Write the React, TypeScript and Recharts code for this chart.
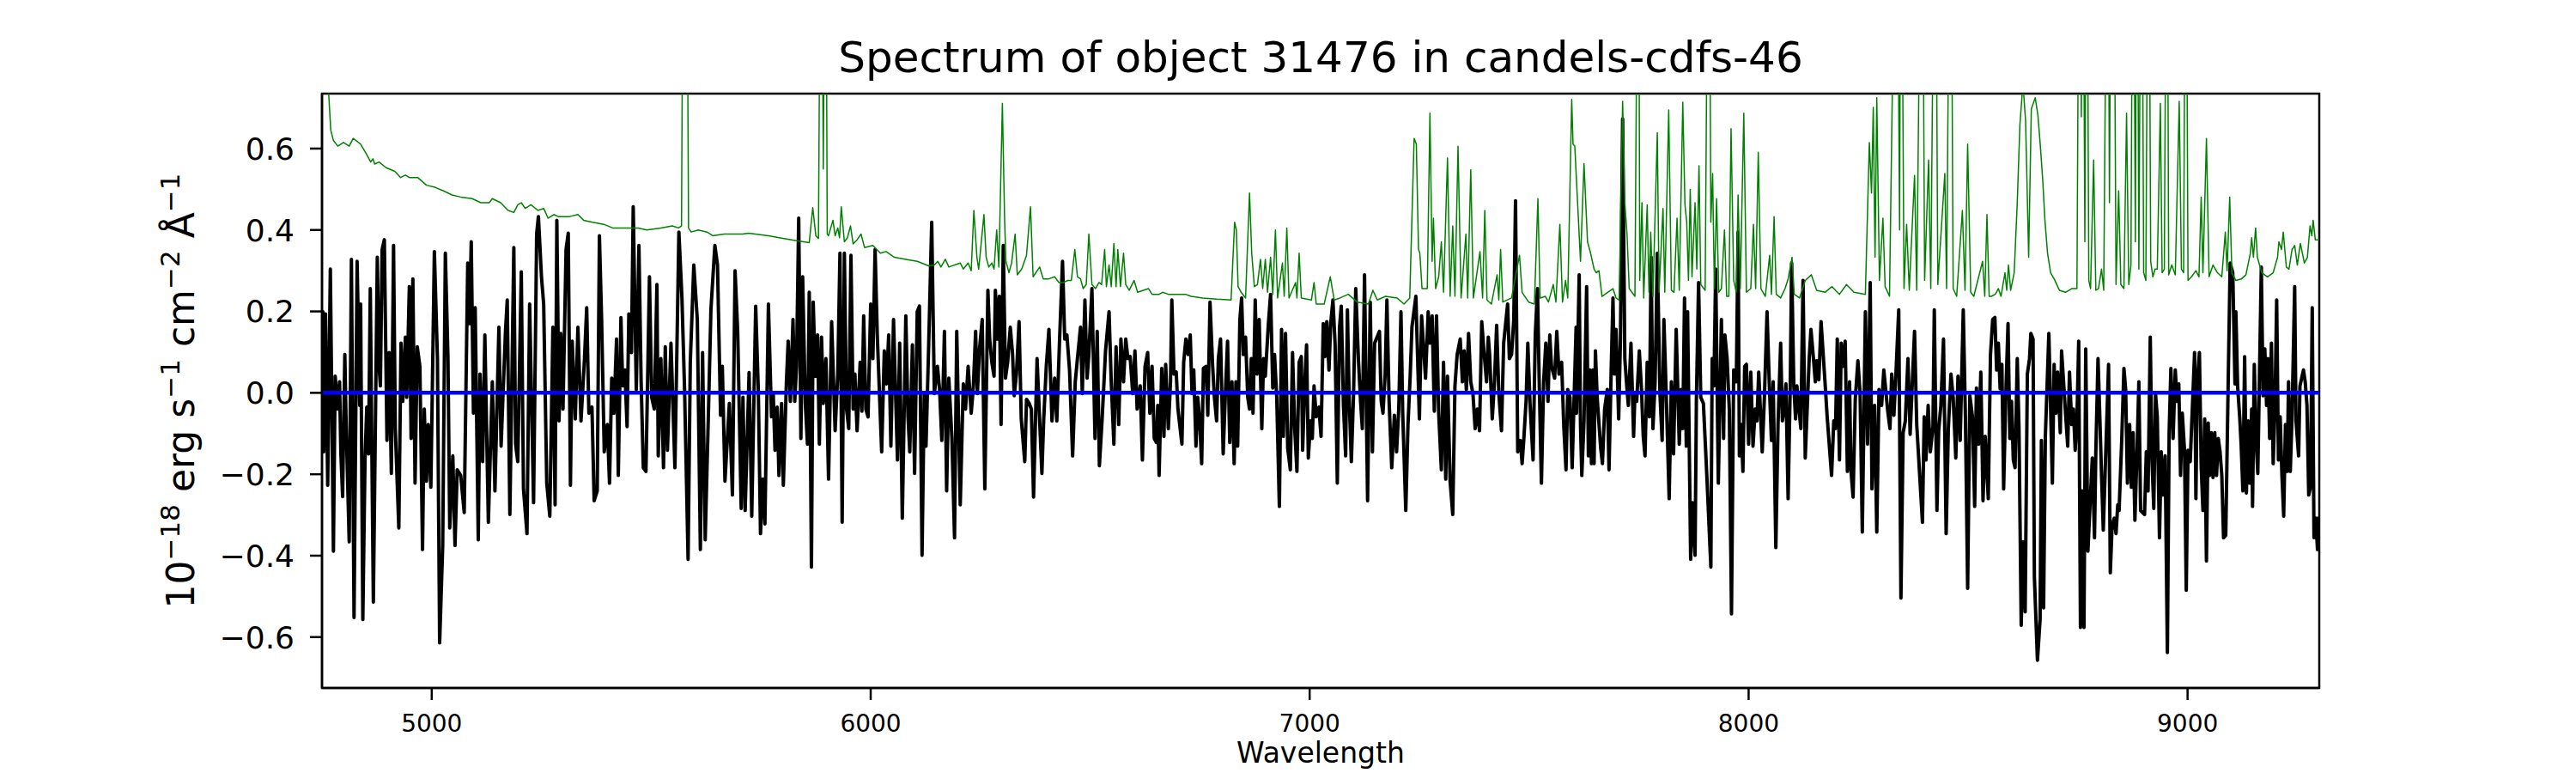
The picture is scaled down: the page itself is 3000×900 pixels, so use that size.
import React from 'react';
import { LineChart, Line, XAxis, YAxis, ReferenceLine, ReferenceArea } from 'recharts';

// Wavelength ticks and flux ticks
const xTicks = [5000, 6000, 7000, 8000, 9000];
const yTicks = [-0.6, -0.4, -0.2, 0.0, 0.2, 0.4, 0.6];
const xDomain: [number, number] = [4750, 9300];
const yDomain: [number, number] = [-0.725, 0.735];

// Observed flux [wavelength, flux]
const fluxA: [number, number][] = [
  [4750,-0.12],[4752,0.199],[4754,-0.145],[4758,0.194],[4763,-0.227],[4769,0.304],[4776,-0.389],[4780,0.041],[4786,-0.04],[4790,0.027],
  [4793,-0.15],[4797,-0.255],[4802,0.094],[4805,-0.078],[4812,-0.366],[4817,0.328],[4823,-0.552],[4830,0.323],[4836,-0.031],[4838,0.218],
  [4843,-0.557],[4848,-0.165],[4852,-0.035],[4856,-0.15],[4860,0.256],[4867,-0.514],[4876,0.333],[4880,0.065],[4883,0.017],[4887,0.352],
  [4892,0.376],[4898,-0.117],[4903,0.099],[4908,-0.198],[4913,0.362],[4917,-0.088],[4925,-0.332],[4930,0.122],[4934,-0.021],[4940,0.137],
  [4943,-0.011],[4949,0.261],[4953,-0.112],[4957,0.28],[4962,-0.222],[4967,0.113],[4973,0.065],[4979,-0.385],[4983,-0.04],[4988,-0.217],
  [4992,-0.078],[4998,-0.232],[5006,0.347],[5013,0.084],[5018,-0.614],[5025,-0.375],[5031,0.343],[5037,0.084],[5041,-0.332],[5048,-0.155],
  [5053,-0.375],[5058,-0.189],[5066,-0.203],[5074,-0.294],[5082,0.319],[5086,0.17],[5090,0.371],[5095,-0.05],[5099,0.209],[5106,-0.361],
  [5110,0.046],[5116,-0.169],[5121,0.142],[5129,-0.318],[5138,0.027],[5144,-0.241],[5153,0.161],[5158,-0.131],[5162,-0.016],[5168,0.151],
  [5172,0.228],[5178,-0.299],[5187,0.357],[5191,-0.126],[5196,-0.169],[5204,0.297],[5209,-0.236],[5217,-0.346],[5223,0.218],[5232,-0.27],
  [5239,0.39],[5243,0.433],[5250,0.285],[5255,0.218],[5262,-0.222],[5269,-0.303],[5276,0.161],[5281,-0.275],[5285,0.424],[5290,-0.069],
  [5294,0.146],[5299,-0.04],[5306,0.352],[5311,0.392],[5316,-0.227],[5320,0.127],[5327,-0.064],[5333,0.161],[5340,-0.069],[5348,0.084],
  [5353,0.209],[5358,-0.05],[5365,-0.035],[5370,-0.265],[5377,-0.241],[5382,0.386],[5387,0.18],[5393,-0.145],[5400,-0.078],[5405,-0.222],
  [5410,0.036],[5415,-0.05],[5421,0.132],[5425,-0.203],[5431,0.185],[5435,0.017],[5440,0.056],[5445,-0.083],[5449,0.194],[5455,0.099],
  [5459,0.457],[5466,0.008],[5472,0.362],[5477,0.027],[5482,-0.184],[5488,-0.193],[5496,0.285],[5501,-0.011],[5507,-0.04],[5513,0.266],
  [5516,-0.155],[5522,0.084],[5528,-0.184],[5532,0.113],[5537,-0.141],[5545,0.122],[5554,-0.184],[5563,0.395],[5570,0.233],[5576,0.008],
  [5584,-0.409],[5589,0.075],[5597,0.314],[5605,0.18],[5612,-0.385],[5617,0.099],[5623,-0.361],[5630,-0.064],[5636,0.204],[5645,0.362],
  [5651,0.314],[5658,-0.055],[5662,0.065],[5668,-0.217],[5678,-0.026],[5685,-0.251],[5691,0.3],[5697,0.151],[5705,-0.284],
];
const fluxB: [number, number][] = [
  [5709,-0.011],[5714,-0.289],[5723,0.05],[5729,-0.303],[5738,0.213],[5744,0.005],[5749,-0.346],[5754,-0.212],[5759,-0.322],[5767,0.218],
  [5774,-0.059],[5778,-0.002],[5782,-0.141],[5787,-0.035],[5791,-0.203],[5797,-0.026],[5801,-0.227],[5808,0.027],[5812,0.127],[5817,-0.021],
  [5823,0.18],[5827,-0.021],[5831,0.065],[5836,0.429],[5841,-0.112],[5845,0.285],[5851,-0.026],[5856,-0.126],[5860,0.247],[5865,-0.428],
  [5869,0.223],[5874,0.041],[5879,0.142],[5883,-0.126],[5888,0.137],[5892,-0.026],[5898,0.084],[5904,-0.212],[5911,0.175],[5919,-0.093],
  [5925,0.046],[5930,0.343],[5935,-0.318],[5940,0.343],[5945,-0.04],[5950,-0.088],[5955,0.338],[5960,-0.04],[5964,0.046],[5969,-0.093],
  [5976,0.075],[5980,-0.045],[5984,0.189],[5989,-0.04],[5994,-0.059],[6000,0.218],[6005,0.084],[6010,0.352],[6015,0.142],[6020,-0.002],
  [6025,-0.145],[6031,0.103],[6036,0.022],[6041,0.142],[6046,-0.131],[6052,0.18],[6056,0.027],[6061,-0.165],[6066,0.122],[6072,-0.308],
  [6080,0.189],[6085,-0.059],[6089,-0.145],[6095,0.118],[6100,-0.198],[6106,0.199],[6111,0.213],[6117,-0.399],[6122,-0.002],[6126,-0.131],
  [6132,0.113],[6139,0.419],[6145,-0.002],[6152,0.065],[6157,0.008],[6162,-0.117],[6168,0.151],[6173,-0.241],[6178,0.036],[6185,-0.112],
  [6191,-0.356],[6196,0.151],[6204,-0.275],[6211,0.022],[6216,-0.04],[6222,0.065],[6229,-0.05],[6234,0.017],[6239,0.151],[6243,-0.002],
  [6248,0.108],[6254,0.18],[6260,-0.236],[6267,0.252],[6271,0.132],[6276,0.075],[6281,0.041],[6284,0.252],[6289,0.132],[6293,0.237],
  [6297,-0.078],[6302,0.362],[6307,0.036],[6312,0.075],[6318,0.161],[6323,0.099],[6327,-0.007],[6332,0.046],[6338,0.175],[6343,-0.064],
  [6351,-0.169],[6355,-0.016],[6361,-0.026],[6366,-0.04],[6371,-0.256],[6379,0.084],[6390,-0.198],[6394,-0.069],[6400,0.065],[6406,0.156],
  [6413,-0.069],[6419,0.036],[6424,-0.069],[6430,0.122],[6437,0.323],[6442,0.132],[6447,0.142],[6453,0.056],[6460,-0.155],[6466,0.027],
  [6471,0.084],[6478,0.161],[6482,-0.002],[6488,0.228],[6493,0.036],[6497,0.094],[6504,0.256],[6511,-0.112],[6516,0.151],[6521,-0.179],
  [6527,-0.069],[6535,0.103],[6543,0.199],[6548,0.027],[6554,-0.126],[6559,0.113],[6565,-0.078],[6570,0.132],[6576,0.027],[6581,0.132],
  [6586,0.084],[6591,0.089],[6597,-0.002],[6602,0.103],[6607,-0.04],[6614,0.017],[6619,-0.165],[6625,0.065],[6631,0.099],[6636,-0.05],
  [6641,0.065],[6646,-0.112],[6651,-0.122],[6654,-0.031],[6657,-0.203],
];
const fluxC: [number, number][] = [
  [6663,0.06],[6668,-0.107],[6672,0.07],[6678,-0.088],[6683,0.027],[6686,0.228],[6691,0.046],[6696,0.051],[6700,-0.04],[6709,-0.126],
  [6713,0.075],[6718,0.132],[6723,0.094],[6728,0.142],[6732,-0.002],[6736,0.056],[6741,-0.131],[6745,-0.011],[6749,-0.059],[6754,-0.174],
  [6758,0.06],[6764,0.065],[6768,-0.055],[6773,0.223],[6779,0.065],[6783,-0.011],[6788,-0.069],[6792,0.084],[6797,0.132],[6803,-0.15],
  [6808,-0.002],[6813,0.127],[6818,-0.122],[6823,0.027],[6828,-0.174],[6832,0.027],[6836,-0.131],[6841,0.18],[6845,0.233],[6849,0.094],
  [6854,0.137],[6859,-0.011],[6863,-0.04],[6867,0.084],[6871,-0.05],[6876,0.228],[6880,0.046],[6885,0.18],[6891,-0.088],[6895,0.084],
  [6899,0.041],[6906,0.17],[6911,0.242],[6916,0.012],[6920,0.094],[6925,-0.011],[6931,-0.279],[6936,0.156],[6940,-0.107],[6945,0.146],
  [6950,-0.136],[6956,-0.189],[6961,0.099],[6966,-0.088],[6971,-0.193],[6976,0.075],[6981,0.089],[6984,-0.141],[6989,0.027],[6993,0.118],
  [6997,-0.16],[7002,-0.069],[7006,-0.112],[7010,0.017],[7015,-0.059],[7021,-0.035],[7026,-0.107],[7031,0.17],[7035,0.089],[7039,0.175],
  [7044,0.056],[7048,0.17],[7053,0.228],[7058,0.118],[7063,-0.222],[7068,0.161],[7072,0.213],[7077,-0.031],[7082,-0.155],[7086,0.204],
  [7090,-0.011],[7095,-0.169],[7100,-0.002],[7105,0.256],[7111,0.084],[7116,-0.021],[7120,-0.088],[7125,0.29],[7132,-0.265],[7138,0.223],
  [7143,-0.145],[7148,0.122],[7159,0.151],[7163,-0.021],[7167,-0.05],[7172,0.046],[7176,0.228],[7181,-0.021],[7187,-0.184],[7193,-0.055],
  [7198,-0.145],[7203,-0.04],[7208,0.199],[7212,-0.05],[7219,-0.289],[7224,-0.078],[7229,0.041],[7233,0.161],[7242,0.237],[7246,0.084],
  [7250,-0.064],[7255,0.189],[7264,0.036],[7270,0.199],[7274,0.122],[7279,0.189],[7284,-0.045],[7289,0.189],[7294,-0.05],[7300,-0.189],
  [7305,0.075],[7310,-0.212],[7314,0.041],[7320,-0.217],[7326,-0.299],[7331,0.017],[7336,0.094],[7343,0.132],[7348,0.027],[7352,0.103],
  [7357,0.008],[7362,0.146],[7367,0.027],[7372,-0.002],[7377,-0.088],[7382,-0.04],[7387,-0.093],[7392,0.175],[7397,0.103],[7403,0.027],
  [7407,0.137],[7410,0.094],[7416,-0.064],[7421,0.027],[7426,0.166],[7431,-0.002],[7437,-0.093],[7442,0.122],[7451,0.218],[7455,0.084],
  [7460,0.094],[7465,0.18],[7469,0.472],[7474,-0.145],[7480,-0.117],[7484,-0.174],[7488,-0.112],[7493,-0.021],[7497,0.122],[7502,-0.026],
  [7509,-0.165],[7514,0.142],[7519,0.256],[7523,0.027],[7528,-0.222],[7533,0.027],[7538,0.122],[7543,-0.021],[7547,0.142],[7551,0.065],
  [7558,0.036],[7563,0.151],[7568,0.046],[7574,0.075],[7579,-0.083],[7584,-0.189],[7588,0.008],[7593,-0.011],[7598,-0.184],[7603,0.008],
  [7607,0.161],
];
const fluxD: [number, number][] = [
  [7608,-0.05],[7614,0.29],[7617,-0.078],[7620,-0.203],[7625,-0.069],[7631,0.261],[7635,-0.155],[7638,0.056],[7642,-0.174],[7645,0.056],
  [7648,-0.174],[7651,0.103],[7655,-0.011],[7663,-0.136],[7667,-0.174],[7672,-0.04],[7678,0.008],[7682,-0.189],[7687,0.06],[7691,0.233],
  [7694,0.046],[7698,0.156],[7704,-0.064],[7708,0.132],[7713,0.673],[7718,0.084],[7723,0.008],[7726,-0.031],[7732,0.122],[7738,-0.107],
  [7741,-0.002],[7745,-0.021],[7751,0.103],[7756,0.008],[7760,-0.107],[7764,-0.155],[7769,0.075],[7774,-0.059],[7778,0.333],[7782,-0.088],
  [7787,0.027],[7792,0.343],[7798,-0.002],[7803,-0.117],[7807,0.18],[7812,0.008],[7819,-0.26],[7824,0.027],[7829,-0.15],[7835,0.156],
  [7842,-0.126],[7846,0.008],[7850,-0.088],[7854,0.233],[7858,-0.131],[7861,0.199],[7868,-0.409],[7872,-0.27],[7878,-0.399],[7881,-0.021],
  [7886,0.271],[7891,-0.011],[7897,-0.026],[7905,-0.208],[7914,-0.428],[7917,0.084],[7921,0.017],[7925,0.304],[7931,-0.222],[7938,0.18],
  [7943,-0.112],[7946,0.142],[7951,0.084],[7956,-0.04],[7961,-0.543],[7966,0.056],[7972,0.027],[7976,0.395],[7979,-0.155],[7983,-0.078],
  [7987,-0.193],[7991,0.065],[7995,0.07],[8000,-0.126],[8005,0.051],[8010,-0.131],[8015,-0.04],[8019,-0.069],[8023,0.051],[8031,-0.145],
  [8036,-0.011],[8042,0.199],[8047,0.027],[8052,-0.117],[8056,0.027],[8062,-0.38],[8067,-0.078],[8073,0.122],[8077,-0.069],[8081,-0.04],
  [8085,0.022],[8090,-0.26],[8095,0.027],[8098,0.319],[8103,0.017],[8107,-0.064],[8110,0.017],[8119,-0.088],[8124,0.276],[8129,-0.16],
  [8138,0.084],[8142,0.156],[8147,0.094],[8152,0.027],[8155,0.079],[8160,0.032],[8165,0.175],[8174,0.027],[8179,-0.059],[8189,-0.203],
  [8194,-0.069],[8198,-0.088],[8202,0.132],[8207,-0.165],[8211,0.122],[8215,0.065],[8220,0.127],[8225,-0.193],[8230,0.027],[8233,-0.189],
  [8238,-0.256],[8243,-0.016],[8249,0.079],[8254,-0.002],[8259,-0.342],[8266,0.199],[8271,-0.126],[8277,0.271],[8281,-0.236],[8287,-0.031],
  [8292,-0.342],[8297,0.008],[8303,-0.031],[8308,0.056],[8317,-0.045],[8322,-0.088],[8326,0.046],[8331,-0.055],[8336,0.056],[8342,0.204],
  [8347,-0.504],[8352,-0.098],[8357,-0.069],[8363,0.084],[8368,-0.102],[8373,0.027],[8378,0.151],[8383,-0.078],[8396,-0.318],[8400,-0.059],
  [8404,-0.165],[8409,-0.031],[8414,-0.145],[8420,-0.083],[8423,0.204],[8429,-0.289],[8433,-0.093],[8438,-0.031],[8444,0.132],[8450,-0.346],
  [8455,-0.088],[8461,0.046],[8466,-0.011],[8472,-0.16],[8477,0.041],[8482,-0.117],[8489,0.204],[8494,-0.064],[8499,-0.48],[8504,-0.007],
  [8510,-0.059],[8515,-0.279],[8519,0.012],[8524,-0.126],[8529,0.051],[8534,-0.265],[8539,-0.107],[8546,-0.26],[8551,0.094],[8556,0.18],
];
const fluxE: [number, number][] = [
  [8561,0.185],[8565,0.056],[8569,0.122],[8573,0.01],[8577,0.07],[8581,-0.236],[8586,-0.002],[8591,0.17],[8595,-0.112],[8599,-0.021],
  [8603,-0.165],[8607,-0.184],[8612,0.084],[8616,-0.088],[8621,-0.571],[8625,-0.366],[8630,-0.538],[8635,0.046],[8640,0.084],[8643,0.146],
  [8648,0.132],[8651,-0.452],[8658,-0.657],[8664,-0.557],[8667,-0.117],[8672,-0.528],[8676,-0.107],[8684,0.146],[8692,-0.222],[8696,0.07],
  [8700,-0.05],[8704,0.051],[8710,-0.098],[8713,0.103],[8722,-0.05],[8727,-0.131],[8731,0.051],[8736,-0.078],[8740,-0.04],[8744,-0.141],
  [8748,-0.064],[8752,0.127],[8756,-0.576],[8760,-0.241],[8764,-0.576],[8768,0.108],[8773,-0.389],[8778,-0.27],[8783,-0.16],[8788,-0.356],
  [8791,-0.145],[8796,0.084],[8800,-0.055],[8804,-0.203],[8808,-0.337],[8812,-0.203],[8820,0.07],[8824,-0.442],[8828,-0.327],[8833,-0.308],
  [8837,-0.346],[8841,-0.275],[8844,-0.289],[8850,-0.117],[8855,0.06],[8859,0.008],[8863,-0.222],[8868,-0.078],[8872,-0.232],[8876,-0.098],
  [8880,-0.313],[8885,-0.141],[8889,0.027],[8893,-0.289],[8902,-0.299],[8906,-0.145],[8910,-0.241],[8915,0.137],[8919,-0.165],[8923,-0.284],
  [8927,-0.002],[8931,-0.059],[8936,-0.356],[8940,-0.145],[8944,-0.251],[8949,-0.155],[8954,-0.638],[8958,-0.098],[8962,0.06],[8967,-0.112],
  [8972,0.056],[8976,-0.021],[8980,0.022],[8984,-0.203],[8988,-0.05],[8993,-0.141],[8997,-0.485],[9001,-0.141],[9006,-0.169],[9016,0.099],
  [9019,-0.26],[9022,0.022],[9027,0.099],[9031,-0.179],[9035,-0.289],[9039,-0.064],[9043,-0.413],[9047,-0.074],[9050,-0.203],[9054,-0.098],
  [9058,-0.208],[9062,-0.098],[9066,-0.203],[9070,-0.112],[9074,-0.145],[9078,-0.203],[9082,-0.356],[9087,-0.35],[9092,-0.011],[9097,0.319],
  [9103,0.295],[9108,0.022],[9110,0.199],[9114,0.017],[9119,-0.064],[9122,-0.126],[9126,-0.241],[9130,0.089],[9134,-0.246],[9138,-0.069],
  [9142,-0.222],[9146,-0.04],[9148,-0.279],[9152,0.07],[9156,-0.112],[9160,-0.198],[9164,0.056],[9168,0.309],[9172,-0.007],[9176,0.108],
  [9180,-0.031],[9183,0.084],[9187,-0.112],[9191,0.122],[9195,-0.174],[9199,-0.04],[9203,0.228],[9207,-0.165],[9211,-0.059],[9215,-0.203],
  [9219,-0.303],[9223,-0.078],[9227,-0.193],[9230,0.027],[9234,-0.193],[9238,-0.059],[9244,0.261],[9247,-0.069],[9253,-0.155],[9256,0.017],
  [9264,0.056],[9268,0.027],[9272,-0.031],[9276,-0.251],[9280,-0.232],[9284,0.209],[9288,-0.356],[9292,-0.308],[9296,-0.385],[9298,-0.308],
  [9300,-0.38],
];

// Noise / sky spectrum [wavelength, value]
const skyA: [number, number][] = [
  [4750,1.3],[4760,0.85],[4766,0.72],[4770,0.645],[4776,0.62],[4786,0.606],[4799,0.615],[4812,0.606],[4821,0.625],[4838,0.611],
  [4851,0.587],[4861,0.567],[4866,0.575],[4870,0.562],[4880,0.567],[4896,0.553],[4916,0.544],[4929,0.529],[4940,0.535],[4949,0.529],
  [4968,0.529],[4988,0.51],[5007,0.505],[5027,0.496],[5046,0.486],[5066,0.481],[5092,0.477],[5112,0.467],[5131,0.467],[5138,0.477],
  [5157,0.467],[5174,0.448],[5187,0.443],[5196,0.462],[5204,0.467],[5213,0.453],[5226,0.462],[5242,0.448],[5255,0.453],[5265,0.429],
  [5278,0.438],[5288,0.433],[5314,0.433],[5333,0.438],[5346,0.424],[5366,0.419],[5392,0.414],[5412,0.405],[5438,0.405],[5470,0.405],
  [5490,0.4],[5522,0.405],[5548,0.41],[5562,0.405],[5569,0.41],[5574,1.5],[5580,1.5],[5585,0.405],[5591,0.395],[5607,0.4],
  [5627,0.395],[5640,0.386],[5666,0.39],[5708,0.39],
];
const skyB: [number, number][] = [
  [5722,0.392],[5767,0.386],[5819,0.376],[5860,0.369],[5868,0.455],[5875,0.386],[5881,0.379],[5887,1.5],[5892,0.55],[5897,1.5],
  [5901,0.39],[5904,0.386],[5914,0.424],[5919,0.386],[5925,0.405],[5929,0.381],[5933,0.457],[5940,0.371],[5947,0.381],[5954,0.41],
  [5960,0.366],[5969,0.376],[5978,0.39],[5986,0.357],[6005,0.362],[6022,0.343],[6035,0.347],[6054,0.333],[6080,0.328],[6106,0.323],
  [6132,0.312],[6145,0.314],[6153,0.323],[6160,0.309],[6170,0.328],[6178,0.309],[6204,0.319],[6211,0.304],[6222,0.319],[6229,0.3],
  [6235,0.448],[6242,0.333],[6246,0.304],[6258,0.438],[6263,0.333],[6269,0.309],[6276,0.319],[6281,0.304],[6287,0.4],[6292,0.309],
  [6300,0.711],[6305,0.429],[6308,0.323],[6315,0.295],[6321,0.319],[6329,0.39],[6334,0.29],[6344,0.304],[6355,0.338],[6364,0.457],
  [6370,0.285],[6385,0.309],[6393,0.28],[6406,0.28],[6419,0.285],[6429,0.271],[6439,0.271],[6449,0.276],[6457,0.276],[6465,0.352],
  [6471,0.285],[6478,0.28],[6484,0.256],[6491,0.266],[6497,0.39],[6504,0.266],[6512,0.256],[6520,0.271],[6526,0.266],[6533,0.352],
  [6537,0.261],[6543,0.314],[6548,0.261],[6554,0.367],[6559,0.261],[6563,0.352],[6569,0.261],[6576,0.343],[6581,0.266],[6589,0.252],
  [6600,0.276],[6608,0.247],[6633,0.256],[6641,0.242],[6657,0.242],
];
const skyC: [number, number][] = [
  [6665,0.247],[6678,0.242],[6700,0.242],[6717,0.242],[6730,0.237],[6756,0.233],[6788,0.23],[6821,0.228],[6829,0.419],[6833,0.4],
  [6837,0.261],[6844,0.247],[6854,0.233],[6863,0.491],[6868,0.343],[6874,0.261],[6881,0.266],[6888,0.328],[6893,0.256],[6899,0.328],
  [6904,0.247],[6911,0.333],[6916,0.242],[6922,0.4],[6927,0.233],[6938,0.319],[6942,0.237],[6948,0.405],[6953,0.233],[6968,0.271],
  [6971,0.233],[6976,0.343],[6981,0.233],[7004,0.228],[7010,0.271],[7015,0.218],[7033,0.218],[7047,0.285],[7056,0.228],[7069,0.233],
  [7088,0.242],[7108,0.223],[7134,0.218],[7144,0.252],[7154,0.228],[7173,0.237],[7199,0.233],[7215,0.218],[7228,0.233],[7238,0.625],
  [7243,0.611],[7248,0.352],[7251,0.343],[7256,0.256],[7268,0.256],[7274,0.687],[7279,0.323],[7282,0.429],[7287,0.256],[7294,0.285],
  [7300,0.371],[7305,0.247],[7314,0.577],[7320,0.237],[7326,0.41],[7331,0.237],[7338,0.606],[7345,0.233],[7356,0.39],[7360,0.233],
  [7367,0.548],[7373,0.233],[7388,0.347],[7394,0.233],[7399,0.448],[7404,0.228],[7414,0.218],[7427,0.29],[7431,0.228],[7435,0.352],
  [7440,0.223],[7460,0.233],[7478,0.338],[7484,0.247],[7490,0.237],[7499,0.223],[7512,0.218],[7520,0.477],[7525,0.233],[7537,0.237],
  [7544,0.223],[7555,0.266],[7561,0.223],[7570,0.414],[7576,0.223],[7583,0.276],[7588,0.233],[7597,0.721],[7600,0.611],[7604,0.606],
];
const skyD: [number, number][] = [
  [7617,0.323],[7625,0.563],[7633,0.371],[7640,0.343],[7648,0.304],[7653,0.295],[7659,0.3],[7666,0.237],[7679,0.247],[7691,0.256],
  [7698,0.233],[7705,0.228],[7713,0.716],[7718,0.467],[7723,0.39],[7728,0.256],[7734,0.247],[7741,0.237],[7749,1.5],[7752,0.276],
  [7757,0.467],[7761,0.233],[7769,0.462],[7773,0.247],[7777,0.395],[7782,0.237],[7792,0.639],[7796,0.247],[7805,0.453],[7809,0.247],
  [7818,0.695],[7824,0.252],[7830,0.247],[7837,0.429],[7842,0.252],[7850,0.714],[7855,0.462],[7859,0.419],[7863,0.276],[7867,0.5],
  [7871,0.285],[7878,0.467],[7882,0.304],[7887,0.558],[7891,0.266],[7901,0.252],[7909,1.5],[7914,0.419],[7918,0.539],[7922,0.256],
  [7927,0.477],[7932,0.247],[7938,0.256],[7945,0.4],[7950,0.237],[7955,0.237],[7960,0.649],[7966,0.276],[7972,0.247],[7976,0.486],
  [7981,0.256],[7989,0.687],[7995,0.247],[8005,0.256],[8011,0.414],[8016,0.256],[8022,0.591],[8028,0.256],[8038,0.237],[8048,0.338],
  [8052,0.242],[8058,0.433],[8063,0.242],[8073,0.233],[8083,0.256],[8090,0.28],[8099,0.333],[8104,0.242],[8116,0.233],[8129,0.276],
  [8143,0.29],[8155,0.252],[8174,0.247],[8190,0.261],[8207,0.242],[8223,0.266],[8240,0.247],[8266,0.242],[8275,0.615],[8280,0.491],
  [8284,0.701],[8288,0.333],[8292,0.725],[8298,0.276],[8306,0.429],[8311,0.261],[8321,0.237],[8337,1.5],[8344,0.4],[8347,1.5],
  [8354,0.256],[8360,0.414],[8366,0.252],[8378,0.534],[8383,0.252],[8395,1.5],[8401,0.276],[8410,0.572],[8415,0.256],[8425,1.5],
  [8431,0.266],[8447,0.539],[8451,0.256],[8460,1.5],[8466,0.256],[8474,0.237],[8487,0.448],[8493,0.252],[8499,0.611],[8506,0.247],
  [8513,0.237],[8533,0.323],[8538,0.237],[8543,0.438],[8548,0.237],
];
const skyE: [number, number][] = [
  [8553,0.237],[8562,0.242],[8569,0.256],[8575,0.237],[8584,0.295],[8588,0.252],[8592,0.314],[8597,0.252],[8605,0.295],[8612,0.467],
  [8618,0.658],[8625,0.76],[8631,0.668],[8638,0.333],[8644,0.697],[8653,0.725],[8659,0.682],[8664,0.615],[8670,0.524],[8675,0.424],
  [8681,0.343],[8688,0.295],[8696,0.28],[8708,0.252],[8722,0.247],[8736,0.256],[8748,0.256],[8754,1.5],[8758,0.678],[8761,1.5],
  [8766,0.371],[8770,1.5],[8775,0.276],[8779,0.256],[8786,0.572],[8791,0.252],[8797,0.256],[8804,0.304],[8809,0.252],[8818,1.5],
  [8822,0.467],[8827,1.5],[8831,1.5],[8837,0.266],[8843,0.496],[8848,0.266],[8855,0.256],[8861,0.687],[8866,0.266],[8871,0.314],
  [8876,1.5],[8881,0.371],[8885,1.5],[8889,0.304],[8895,1.5],[8900,0.295],[8905,0.276],[8911,1.5],[8916,0.323],[8921,0.285],
  [8926,0.304],[8931,0.304],[8938,0.711],[8942,0.295],[8947,0.304],[8953,1.5],[8957,0.29],[8964,0.314],[8972,0.29],[8981,0.716],
  [8986,0.304],[8991,0.295],[8996,1.5],[9001,0.276],[9009,0.285],[9019,0.3],[9026,0.285],[9031,0.481],[9035,0.295],[9043,0.625],
  [9049,0.285],[9058,0.314],[9068,0.295],[9078,0.285],[9086,0.395],[9090,0.3],[9096,0.481],[9101,0.295],[9110,0.276],[9123,0.28],
  [9133,0.29],[9143,0.343],[9146,0.381],[9150,0.333],[9155,0.405],[9159,0.333],[9169,0.295],[9182,0.285],[9195,0.295],[9205,0.333],
  [9208,0.371],[9214,0.352],[9218,0.395],[9225,0.309],[9231,0.304],[9238,0.352],[9244,0.362],[9250,0.314],[9257,0.367],[9266,0.319],
  [9273,0.333],[9279,0.41],[9283,0.386],[9286,0.424],[9291,0.376],[9300,0.376],
];

const toRows = (parts: [number, number][][]) =>
  parts.flat().map(([w, v]) => ({ w, v }));

const fluxRows = toRows([fluxA, fluxB, fluxC, fluxD, fluxE]);
const skyRows = toRows([skyA, skyB, skyC, skyD, skyE]);

const FONT = 'DejaVu Sans, Verdana, sans-serif';

const fmtY = (v: number) => (v < -1e-9 ? '\u2212' + Math.abs(v).toFixed(1) : Math.abs(v).toFixed(1));

export default function App() {
  return (
    <div style={{ position: 'absolute', left: 0, top: 0, width: 3000, height: 900, background: '#fff', fontFamily: FONT }}>
      <LineChart
        width={3000}
        height={900}
        margin={{ top: 109, right: 299, bottom: 39, left: 275 }}
      >
        <XAxis
          dataKey="w"
          type="number"
          domain={xDomain}
          ticks={xTicks}
          interval={0}
          allowDataOverflow
          height={60}
          tickSize={14}
          tickMargin={17}
          axisLine={{ stroke: '#000', strokeWidth: 2.5 }}
          tickLine={{ stroke: '#000', strokeWidth: 2.5 }}
          tick={{ fill: '#000', fontSize: 28, fontFamily: FONT }}
        />
        <YAxis
          type="number"
          domain={yDomain}
          ticks={yTicks}
          interval={0}
          allowDataOverflow
          width={100}
          tickSize={14}
          tickMargin={18}
          tickFormatter={fmtY}
          axisLine={{ stroke: '#000', strokeWidth: 2.5 }}
          tickLine={{ stroke: '#000', strokeWidth: 2.5 }}
          tick={{ fill: '#000', fontSize: 36, fontFamily: FONT }}
        />
        <Line
          data={fluxRows}
          dataKey="v"
          stroke="#000000"
          strokeWidth={4}
          strokeLinejoin="round"
          dot={false}
          isAnimationActive={false}
        />
        <Line
          data={skyRows}
          dataKey="v"
          stroke="#008000"
          strokeWidth={1.5}
          strokeLinejoin="round"
          dot={false}
          isAnimationActive={false}
        />
        <ReferenceLine y={0} stroke="#0000ff" strokeWidth={4.5} />
        <ReferenceArea
          x1={xDomain[0]}
          x2={xDomain[1]}
          y1={yDomain[0]}
          y2={yDomain[1]}
          fill="none"
          fillOpacity={0}
          stroke="#000"
          strokeWidth={2.5}
        />
      </LineChart>
      <svg
        width={3000}
        height={900}
        style={{ position: 'absolute', left: 0, top: 0, pointerEvents: 'none' }}
      >
        <text x={1538} y={84} textAnchor="middle" fontSize={50} fontFamily={FONT} fill="#000">
          Spectrum of object 31476 in candels-cdfs-46
        </text>
        <text x={1538} y={888} textAnchor="middle" fontSize={33} fontFamily={FONT} fill="#000">
          Wavelength
        </text>
        <text transform="translate(226,455) rotate(-90)" textAnchor="middle" fontSize={44} fontFamily={FONT} fill="#000">
          <tspan>10</tspan>
          <tspan fontSize={31} dy={-17}>{'\u221218'}</tspan>
          <tspan dy={17}>{' erg s'}</tspan>
          <tspan fontSize={31} dy={-17}>{'\u22121'}</tspan>
          <tspan dy={17}>{' cm'}</tspan>
          <tspan fontSize={31} dy={-17}>{'\u22122'}</tspan>
          <tspan dy={17}>{' \u00C5'}</tspan>
          <tspan fontSize={31} dy={-17}>{'\u22121'}</tspan>
        </text>
      </svg>
    </div>
  );
}
